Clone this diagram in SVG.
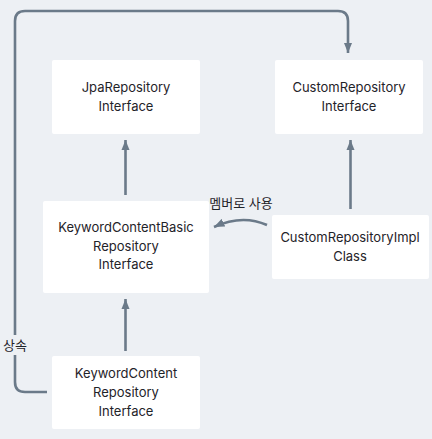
<svg xmlns="http://www.w3.org/2000/svg" width="432" height="439" viewBox="0 0 432 439">
<defs>
<style>
.box{fill:#ffffff;}
.t{font-family:Inter,"Noto Sans","Noto Sans CJK KR",sans-serif;font-size:13px;font-weight:400;fill:#1f2329;text-anchor:middle;}
.c{fill:none;stroke:#6b7a89;stroke-width:2.6;}
.lbl{font-family:Inter,"Noto Sans CJK KR",sans-serif;font-size:13px;font-weight:400;fill:#1f2329;}
</style>
<marker id="ah" viewBox="0 0 10 8" refX="10" refY="4" markerWidth="4" markerHeight="3.4" orient="auto" markerUnits="strokeWidth">
<path d="M0,0 L10,4 L0,8 Z" fill="#6b7a89"/>
</marker>
</defs>
<rect width="432" height="439" fill="#edf0f4"/>
<g id="connectors">
<path class="c" d="M125.5,195 L125.5,140" marker-end="url(#ah)"/>
<path class="c" d="M350.5,209 L350.5,140" marker-end="url(#ah)"/>
<path class="c" d="M125.5,351 L125.5,299" marker-end="url(#ah)"/>
<path class="c" d="M267,225 Q242,214 214,227" marker-end="url(#ah)"/>
<path class="c" d="M47,392 L25,392 Q15,392 15,382 L15,355"/>
<path class="c" d="M15,335 L15,21 Q15,11 25,11 L338,11 Q348,11 348,21 L348,53" marker-end="url(#ah)"/>
<text class="lbl" x="241" y="208" text-anchor="middle">멤버로 사용</text>
<text class="lbl" x="15" y="350" text-anchor="middle">상속</text>
</g>
<g id="jpa">
<rect class="box" x="52" y="60" width="148" height="74" rx="2"/>
<text class="t" x="126" y="92">JpaRepository</text>
<text class="t" x="126" y="111">Interface</text>
</g>
<g id="custom">
<rect class="box" x="275" y="60" width="148" height="74" rx="2"/>
<text class="t" x="349" y="92">CustomRepository</text>
<text class="t" x="349" y="111">Interface</text>
</g>
<g id="kcbasic">
<rect class="box" x="43" y="201" width="166" height="92" rx="2"/>
<text class="t" x="126" y="232">KeywordContentBasic</text>
<text class="t" x="126" y="251">Repository</text>
<text class="t" x="126" y="269">Interface</text>
</g>
<g id="impl">
<rect class="box" x="272" y="215" width="157" height="64" rx="2"/>
<text class="t" x="350" y="242">CustomRepositoryImpl</text>
<text class="t" x="350" y="261">Class</text>
</g>
<g id="kc">
<rect class="box" x="52" y="356" width="148" height="73" rx="2"/>
<text class="t" x="126" y="378">KeywordContent</text>
<text class="t" x="126" y="397">Repository</text>
<text class="t" x="126" y="416">Interface</text>
</g>
</svg>
